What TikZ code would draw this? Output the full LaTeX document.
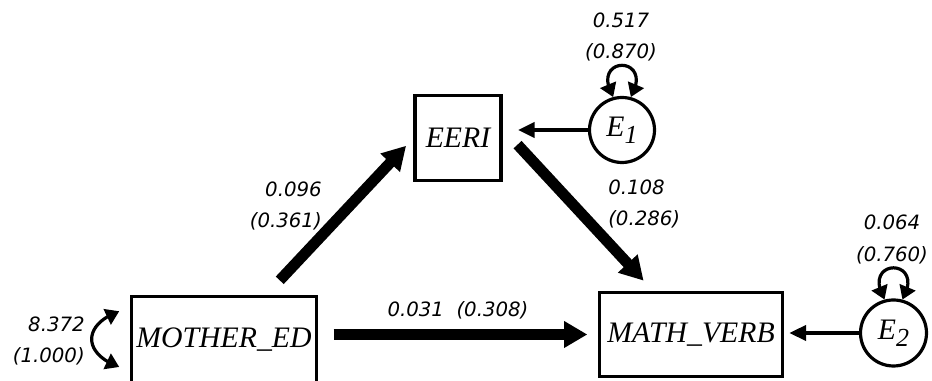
\documentclass[tikz,border=0pt]{standalone}
\usepackage{fontspec}
\setmainfont{Liberation Serif}
\newfontfamily\numfont{DejaVu Sans}
\usetikzlibrary{arrows.meta,bending}

% lowered index of the error terms
\newcommand{\errsub}[1]{\raisebox{-5pt}{\fontsize{19.5}{19.5}\selectfont #1}}

\begin{document}
\begin{tikzpicture}[x=0.75pt, y=0.75pt]
    % Define styles
    \tikzset{
        var/.style={
            draw,
            line width=2.4pt,
            rectangle,
            inner sep=0pt,
            font=\itshape\fontsize{22.3}{24}\selectfont
        },
        err/.style={
            draw,
            line width=2.4pt,
            circle,
            inner sep=0pt,
            minimum size=48.75pt,
            font=\itshape\fontsize{22.3}{24}\selectfont
        },
        heavy/.style={
            line width=8.2pt,
            -{Triangle[length=17.5pt, width=19pt]}
        },
        light/.style={
            line width=2.4pt,
            -{Triangle[length=12.5pt, width=11.5pt]}
        },
        twoway/.style={
            line width=2.4pt,
            arrows={Triangle[length=10pt, width=12.5pt]-Triangle[length=10pt, width=12.5pt]}
        },
        est/.style={
            inner sep=0pt,
            font=\numfont\itshape\fontsize{14.8}{23.5}\selectfont
        }
    }

    \useasboundingbox (0,0) rectangle (932,381);

    % Observed variables
    \node[var, minimum width=138.75pt, minimum height=65.25pt] (mother) at (224,41) {MOTHER\_ED};
    \node[var, minimum width=64.5pt, minimum height=63.75pt] (eeri) at (458,243) {EERI};
    \node[var, minimum width=137.25pt, minimum height=63pt] (math) at (691,46.5) {MATH\_VERB};

    % Error terms
    \node[err] (e1) at (622,251) {E\errsub{1}};
    \node[err, minimum size=49.5pt] (e2) at (893.5,48) {E\errsub{2}};

    % Paths
    \draw[heavy, shorten <=11.6pt, shorten >=7.9pt] (mother.east |- math.west) -- (math.west);
    \draw[heavy, shorten <=15pt, shorten >=8pt] (mother.47) -- (eeri.west);
    \draw[heavy, shorten <=16.5pt, shorten >=10.5pt] (eeri.12) -- (math.131);

    % Residual paths
    \draw[light, shorten >=11.6pt] (e1.west) -- (e1.west -| eeri.east);
    \draw[light, shorten >=4pt] (e2.west) -- (e2.west -| math.east);

    % Variances
    \draw[twoway] (e1.105) to[out=120, in=60, looseness=7.1] (e1.75);
    \draw[twoway] (e2.105) to[out=120, in=60, looseness=7] (e2.75);
    \draw[twoway] ([xshift=-8pt]mother.163) to[out=200, in=160, looseness=1.8] ([xshift=-8pt]mother.196);

    % Estimates
    \node[est, align=center] (v1) at (621,344) {0.517\\(0.870)};
    \node[est, align=center] (v2) at (892,141.5) {0.064\\(0.760)};
    \node[est, align=right, anchor=east] (v0) at (85,40) {8.372\\(1.000)};
    \node[est] (b1) at (458,70.5) {0.031\ \ (0.308)};
    \node[est, align=right, anchor=east] (b2) at (322,175) {0.096\\(0.361)};
    \node[est, align=left, anchor=west] (b3) at (608,177) {0.108\\(0.286)};
\end{tikzpicture}
\end{document}
